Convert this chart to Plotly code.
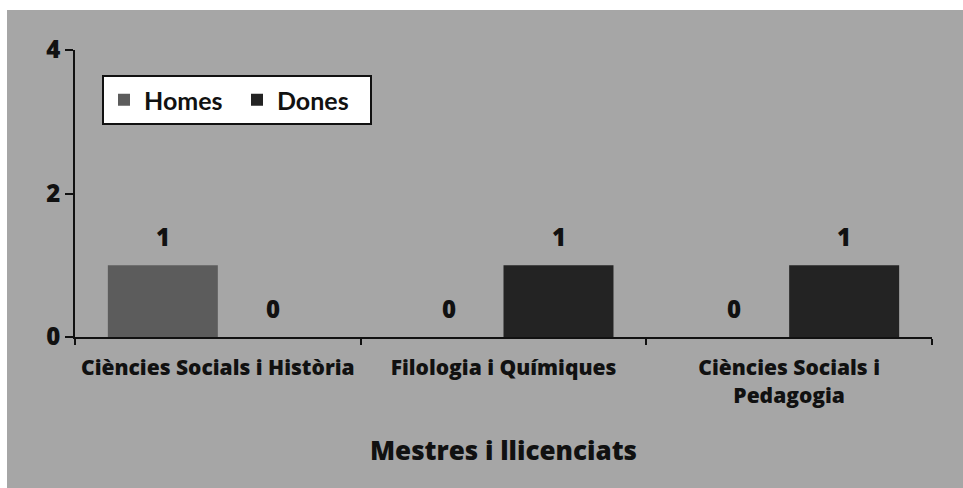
import plotly.graph_objects as go

categories = ["Ciències Socials i Història", "Filologia i Químiques", "Ciències Socials i Pedagogia"]
tick_labels = ["Ciències Socials i Història", "Filologia i Químiques", "Ciències Socials i<br>Pedagogia"]
homes = [1, 0, 0]
dones = [0, 1, 1]
y_ticks = [0, 2, 4]

FONT = "Open Sans"
LFONT = "Lato"
BG = "#a6a6a6"
W, H = 963, 488
L, R, T, B = 75, 31, 50, 151
pw, ph = W - L - R, H - T - B

fig = go.Figure()
fig.add_trace(go.Bar(name="Homes", x=categories, y=homes, marker=dict(color="#5c5c5c", line=dict(width=0))))
fig.add_trace(go.Bar(name="Dones", x=categories, y=dones, marker=dict(color="#232323", line=dict(width=0))))

# value labels above each bar
for vals, shift in ((homes, -55), (dones, 55)):
    for c, v in zip(categories, vals):
        fig.add_annotation(x=c, y=v, text=str(v), showarrow=False, xshift=shift, yshift=29,
                           font=dict(family=FONT, size=24, color="#111", weight=800))

# white strips outside the scanned grey area
fig.add_shape(type="rect", xref="paper", yref="paper", x0=(0 - L) / pw, x1=(7 - L) / pw,
              y0=(T + ph - H) / ph, y1=(T + ph) / ph, fillcolor="white", line=dict(width=0), layer="below")
fig.add_shape(type="rect", xref="paper", yref="paper", x0=(0 - L) / pw, x1=(W - L) / pw,
              y0=(T + ph - 10) / ph, y1=(T + ph) / ph, fillcolor="white", line=dict(width=0), layer="below")

fig.update_layout(
    width=W, height=H,
    margin=dict(l=L, r=R, t=T, b=B, autoexpand=False),
    paper_bgcolor=BG, plot_bgcolor=BG,
    barmode="group", bargap=0.23, bargroupgap=0,
    font=dict(family=FONT, color="#111"),
    showlegend=True,
    legend=dict(orientation="h", x=(102 - L) / pw, y=(T + ph - 75) / ph, xanchor="left", yanchor="top",
                bgcolor="white", bordercolor="#111", borderwidth=2, entrywidth=88,
                font=dict(family=LFONT, size=25, color="#111", weight=700)),
    xaxis=dict(type="category", tickvals=categories, ticktext=tick_labels,
               showline=True, linecolor="#111", linewidth=2, ticks="outside", tickson="boundaries",
               ticklen=6, tickcolor="#111", tickwidth=2, showgrid=False, zeroline=False,
               ticklabelstandoff=11,
               tickfont=dict(family=FONT, size=21, color="#111", weight=800),
               title=dict(text="Mestres i llicenciats", standoff=34,
                          font=dict(family=FONT, size=26, color="#111", weight=800))),
    yaxis=dict(range=[0, 4], tickvals=y_ticks, showline=True, linecolor="#111", linewidth=2,
               ticks="outside", ticklen=8, tickcolor="#111", tickwidth=2, showgrid=False, zeroline=False,
               tickfont=dict(family=FONT, size=24, color="#111", weight=800)),
)

fig.write_html("out.html", config={"displayModeBar": False},
               post_script="document.body.style.margin='0';document.body.style.padding='0';")
